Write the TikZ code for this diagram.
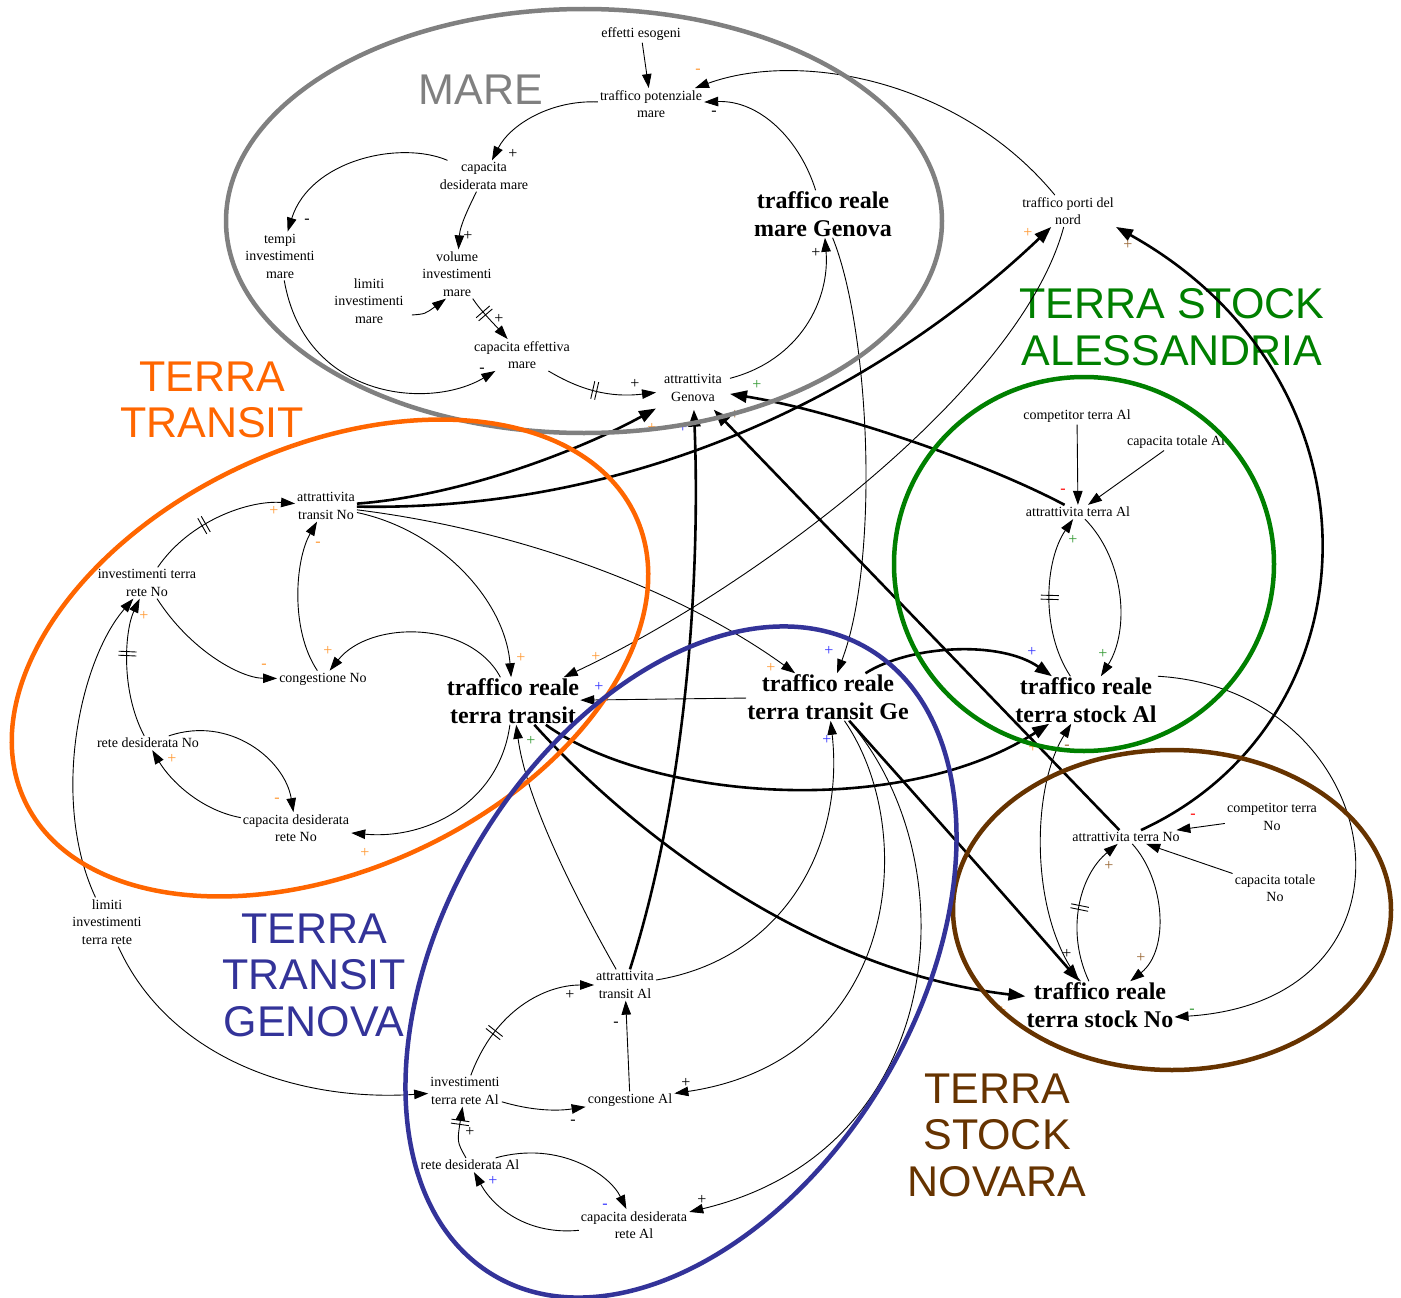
\documentclass[tikz,border=0pt]{standalone}
\usepackage{fontspec}
\setmainfont{Liberation Serif}
\newfontfamily\arialfont{Liberation Sans}
\usetikzlibrary{arrows.meta,decorations.markings}
\definecolor{cgray}{RGB}{128,128,128}
\definecolor{corange}{RGB}{255,102,0}
\definecolor{cgreen}{RGB}{0,128,0}
\definecolor{cblue}{RGB}{51,51,153}
\definecolor{cbrown}{RGB}{102,51,0}
\definecolor{sorange}{RGB}{255,153,51}
\definecolor{sblue}{RGB}{51,51,255}
\definecolor{sgreen}{RGB}{51,153,51}
\definecolor{sbrown}{RGB}{153,102,51}
\definecolor{sred}{RGB}{255,0,0}
\tikzset{
  lab/.style={font=\fontsize{14}{17.5}\selectfont, align=center, inner sep=2pt},
  big/.style={font=\fontsize{24}{28}\selectfont\bfseries, align=center, inner sep=1pt},
  region/.style={font=\arialfont\fontsize{43}{46.5}\selectfont, align=center, inner sep=0pt},
  arr/.style={line width=0.9pt, -{Triangle[length=14pt,width=9.5pt]}},
  tarr/.style={line width=2.6pt, -{Triangle[length=17pt,width=12pt]}},
  sgn/.style={font=\fontsize{16}{16}\selectfont, inner sep=0pt},
  dly/.style={postaction={decorate, decoration={markings, mark=at position #1 with {\draw[line width=0.9pt,-] (-2,-9)--(-2,9) (2,-9)--(2,9);}}}},
  grp/.style={line width=4.5pt},
}
\begin{document}
\begin{tikzpicture}[x=1pt,y=-1pt]
\fill[white] (0,0) rectangle (1401,1298);
\useasboundingbox (0,0) rectangle (1401,1298);

% region titles
\node[region,text=cgray] (rmare) at (481,90) {MARE};
\node[region,text=corange] (rtt) at (212,400) {TERRA\\TRANSIT};
\node[region,text=cgreen] (rtsa) at (1172,327) {TERRA STOCK\\ALESSANDRIA};
\node[region,text=cblue] (rttg) at (314,975) {TERRA\\TRANSIT\\GENOVA};
\node[region,text=cbrown] (rtsn) at (997,1135) {TERRA\\STOCK\\NOVARA};

% variables
\node[lab] (ee) at (641,34) {effetti esogeni};
\node[lab] (tpm) at (651,104) {traffico potenziale\\mare};
\node[lab] (cdm) at (484,176) {capacita\\desiderata mare};
\node[lab] (tim) at (280,256) {tempi\\investimenti\\mare};
\node[lab] (vim) at (457,274) {volume\\investimenti\\mare};
\node[lab] (lim) at (369,301) {limiti\\investimenti\\mare};
\node[lab] (cem) at (522,355) {capacita effettiva\\mare};
\node[lab,inner sep=8pt] (ag) at (693,388) {attrattivita\\Genova};
\node[big] (trmg) at (823,214) {traffico reale\\mare Genova};
\node[lab] (tpn) at (1068,211) {traffico porti del\\nord};

\node[lab] (atn) at (326,506) {attrattivita\\transit No};
\node[lab] (itrn) at (147,583) {investimenti terra\\rete No};
\node[lab] (cno) at (323,679) {congestione No};
\node[lab] (rdn) at (148,743) {rete desiderata No};
\node[lab] (cdrn) at (296,828) {capacita desiderata\\rete No};
\node[big] (trtt) at (513,701) {traffico reale\\terra transit};
\node[lab] (litr) at (107,922) {limiti\\investimenti\\terra rete};

\node[big] (trtg) at (828,697) {traffico reale\\terra transit Ge};
\node[lab] (ata) at (625,985) {attrattivita\\transit Al};
\node[lab] (itra) at (465,1091) {investimenti\\terra rete Al};
\node[lab] (cal) at (630,1100) {congestione Al};
\node[lab] (rda) at (470,1165) {rete desiderata Al};
\node[lab] (cdra) at (634,1225) {capacita desiderata\\rete Al};

\node[lab] (cta) at (1077,416) {competitor terra Al};
\node[lab] (ctoa) at (1176,442) {capacita totale Al};
\node[lab] (aal) at (1078,512) {attrattivita terra Al};
\node[big] (trsa) at (1086,700) {traffico reale\\terra stock Al};

\node[lab] (ctn) at (1272,817) {competitor terra\\No};
\node[lab] (anl) at (1126,837) {attrattivita terra No};
\node[lab] (cton) at (1275,888) {capacita totale\\No};
\node[big] (trsn) at (1100,1005) {traffico reale\\terra stock No};

% MARE links
\draw[arr] (ee) -- (tpm);
\draw[arr] (tpn) .. controls (960,80) and (800,50) .. (tpm);
\draw[arr] (trmg) .. controls (800,140) and (760,100) .. (tpm);
\draw[arr] (tpm) .. controls (550,100) and (510,125) .. (cdm);
\draw[arr] (cdm) .. controls (400,140) and (310,160) .. (tim);
\draw[arr] (cdm) .. controls (470,205) and (460,225) .. (vim);
\draw[arr] ([xshift=6pt,yshift=-14pt]lim.east) .. controls (425,314) .. ([xshift=-11pt]vim.south);
\draw[arr,dly=0.35] (vim) .. controls (480,310) and (495,325) .. (cem);
\draw[arr] (tim) .. controls (305,400) and (430,410) .. (cem);
\draw[arr,dly=0.45] (cem) .. controls (580,390) and (610,398) .. (ag);
\draw[arr] (ag) .. controls (800,360) and (830,300) .. (trmg);
\draw[arr] (trmg) .. controls (870,330) and (880,560) .. (trtg);

% thick links
\draw[tarr] (atn) .. controls (470,495) and (590,445) .. (ag);
\draw[tarr] (atn) .. controls (640,512) and (880,390) .. (tpn);
\draw[tarr] (ata) .. controls (690,780) and (700,560) .. (ag);
\draw[tarr] (aal) .. controls (980,460) and (830,410) .. (ag);
\draw[tarr] (anl) -- (ag);
\draw[tarr] (anl) .. controls (1380,720) and (1390,380) .. (tpn.south east);
\draw[tarr] (trtg) .. controls (910,645) and (1000,640) .. (trsa);
\draw[tarr] (trtg) .. controls (920,800) and (1000,890) .. (trsn);
\draw[tarr] (trtt) .. controls (650,800) and (900,820) .. (trsa);
\draw[tarr] (trtt) .. controls (620,820) and (800,970) .. (trsn);

% transit links
\draw[arr] (tpn) .. controls (1020,390) and (750,590) .. (trtt);
\draw[arr] (atn) .. controls (440,530) and (505,600) .. (trtt);
\draw[arr] (atn) .. controls (520,530) and (680,590) .. (trtg);
\draw[arr] (trtg) -- (trtt);
\draw[arr] (trtg) .. controls (920,830) and (900,1060) .. (cal);
\draw[arr] (trtg) .. controls (970,860) and (950,1150) .. (cdra);
\draw[arr] (trtt) .. controls (470,620) and (370,620) .. (cno);
\draw[arr] (trtt) .. controls (500,800) and (430,840) .. (cdrn);

% orange group
\draw[arr,dly=0.4] (itrn) .. controls (190,520) and (250,500) .. (atn);
\draw[arr] (cno) .. controls (290,630) and (295,560) .. (atn);
\draw[arr] (itrn) .. controls (190,650) and (240,678) .. (cno);
\draw[arr,dly=0.6] (rdn) .. controls (120,690) and (125,630) .. (itrn);
\draw[arr] (rdn) .. controls (230,715) and (285,760) .. (cdrn);
\draw[arr] (cdrn) .. controls (200,810) and (170,780) .. (rdn);
\draw[arr] (litr) .. controls (50,800) and (80,660) .. (itrn);
\draw[arr] (litr) .. controls (170,1060) and (300,1102) .. (itra);

% blue group
\draw[arr,dly=0.3] (itra) .. controls (495,1010) and (545,985) .. (ata);
\draw[arr] (cal) -- (ata);
\draw[arr] (itra) .. controls (540,1113) and (565,1110) .. (cal);
\draw[arr,dly=0.7] (rda) .. controls (457,1142) .. (itra);
\draw[arr] (rda) .. controls (560,1140) and (610,1175) .. (cdra);
\draw[arr] (cdra) .. controls (530,1235) and (495,1210) .. (rda);
\draw[arr] (ata) .. controls (560,870) and (525,790) .. (trtt);
\draw[arr] (ata) .. controls (780,960) and (845,850) .. (trtg);

% green group
\draw[arr] (cta) -- (aal);
\draw[arr] (ctoa) -- (aal);
\draw[arr,dly=0.5] (trsa) .. controls (1040,630) and (1045,560) .. (aal);
\draw[arr] (aal) .. controls (1125,560) and (1130,630) .. (trsa);
\draw[arr] (trsa.north east) .. controls (1390,690) and (1440,1000) .. ([yshift=-12pt]trsn.east);
\draw[arr] (trsn) .. controls (1030,920) and (1030,790) .. (trsa);

% brown group
\draw[arr] (ctn) -- (anl);
\draw[arr] (cton) -- (anl);
\draw[arr,dly=0.5] (trsn) .. controls (1065,930) and (1080,875) .. (anl);
\draw[arr] (anl) .. controls (1165,880) and (1170,950) .. (trsn);

% polarity signs
\foreach \x/\y/\c/\s [count=\i] in {
 698/71/sorange/-, 714/113/black/-, 513/154/black/+, 307/221/black/-,
 468/236/black/+, 499/319/black/+, 482/370/black/-, 635/384/black/+,
 816/253/black/+, 757/385/sgreen/+, 829/651/sblue/+, 652/428/sorange/+,
 683/428/sblue/+, 735/415/sbrown/+, 1028/233/sorange/+, 1128/245/sbrown/+,
 596/657/sorange/+, 521/658/sorange/+, 771/668/sorange/+, 599/687/sblue/+,
 1032/652/sblue/+, 1067/954/black/+, 686/1083/black/+, 702/1200/black/+,
 1033/748/sorange/+, 1002/1011/sorange/+, 328/651/sorange/+, 365/853/sorange/+,
 274/511/sorange/+, 318/544/sorange/-, 264/666/sorange/-, 144/616/sorange/+,
 277/800/sorange/-, 172/759/sorange/+, 570/995/black/+, 616/1024/black/-,
 573/1122/black/-, 470/1132/black/+, 605/1206/sblue/-, 493/1181/sblue/+,
 531/741/sgreen/+, 827/740/sblue/+, 1063/491/sred/-, 1073/540/sgreen/+,
 1103/654/sgreen/+, 1192/1011/sgreen/-, 1067/747/sbrown/-, 1193/816/sred/-,
 1109/866/sbrown/+, 1141/958/sbrown/+}
 \node[sgn,text=\c] (s\i) at (\x,\y) {\s};

% group outlines
\draw[grp,cgray] (584,221) ellipse [x radius=358, y radius=212];
\draw[grp,corange,rotate around={25:(330,658)}] (330,658) ellipse [x radius=337, y radius=211];
\draw[grp,cgreen] (1084,564) ellipse [x radius=190, y radius=187];
\draw[grp,cbrown] (1172,910) ellipse [x radius=219, y radius=160];
\draw[grp,cblue,rotate around={59:(681,962)}] (681,962) ellipse [x radius=365, y radius=235];
\end{tikzpicture}
\end{document}
